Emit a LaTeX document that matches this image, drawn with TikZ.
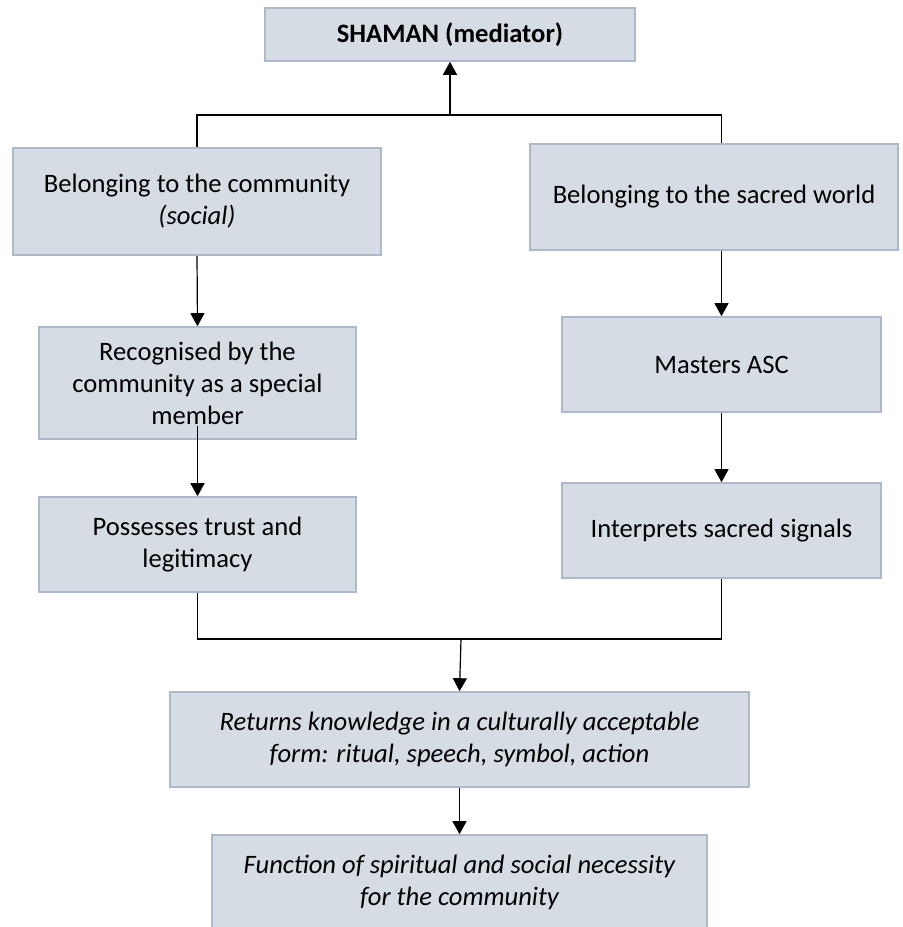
\documentclass[tikz,border=0pt]{standalone}
\usepackage{fontspec}
\setmainfont{Carlito}
\usetikzlibrary{arrows.meta,positioning}
\definecolor{BoxFill}{HTML}{D5DCE4}
\definecolor{BoxLine}{HTML}{ADB9CA}

\tikzset{
  box/.style={draw=BoxLine,fill=BoxFill,line width=0.8pt,align=center,inner sep=2pt,
    font=\fontsize{13.3pt}{16pt}\selectfont},
  link/.style={-{Triangle[length=6.5pt,width=7pt]},line width=0.6pt},
}

\begin{document}
\begin{tikzpicture}[x=0.5pt,y=-0.5pt]
  \useasboundingbox (0,0) rectangle (903,927);
  \node[box,minimum width=185pt,minimum height=26.5pt] (shaman) at (450,34.5) {\textbf{SHAMAN (mediator)}};
  \node[box,minimum width=184pt,minimum height=53.5pt] (comm) at (197,201.5) {Belonging to the community\\\textit{(social)}};
  \node[box,minimum width=184pt,minimum height=53pt] (sacred) at (714,197) {Belonging to the sacred world};
  \node[box,minimum width=158.5pt,minimum height=56pt] (recog) at (197.5,383) {Recognised by the\\community as a special\\member};
  \node[box,minimum width=158.5pt,minimum height=47.5pt] (trust) at (197.5,544.5) {Possesses trust and\\legitimacy};
  \node[box,minimum width=159.5pt,minimum height=47.5pt] (asc) at (721.5,364.5) {Masters ASC};
  \node[box,minimum width=159.5pt,minimum height=47.5pt] (signals) at (721.5,530.5) {Interprets sacred signals};
  \node[box,minimum width=289.5pt,minimum height=47.5pt,font=\fontsize{13.3pt}{16pt}\selectfont\itshape] (returns) at (459.5,739.5) {Returns knowledge in a culturally acceptable\\form: ritual, speech, symbol, action};
  \node[box,minimum width=247.5pt,minimum height=47.5pt,font=\fontsize{13.3pt}{16pt}\selectfont\itshape] (func) at (459.5,882.5) {Function of spiritual and social necessity\\for the community};

  \coordinate (top) at (450,115);
  \coordinate (bottom) at (461,639);
  \draw[line width=0.6pt] (comm.north) |- (top) -| (asc.north |- sacred.north);
  \draw[link] (top) -- (shaman.south);
  \draw[link] (comm.south) -- (recog.north);
  \draw[link] ([yshift=7pt]recog.south) -- (trust.north);
  \draw[link] (asc.north |- sacred.south) -- (asc.north);
  \draw[link] (asc.south) -- (signals.north);
  \draw[line width=0.6pt] (trust.south) |- (bottom) -| (signals.south);
  \draw[link] (bottom) -- (returns.north);
  \draw[link] (returns.south) -- (func.north);
\end{tikzpicture}
\end{document}
